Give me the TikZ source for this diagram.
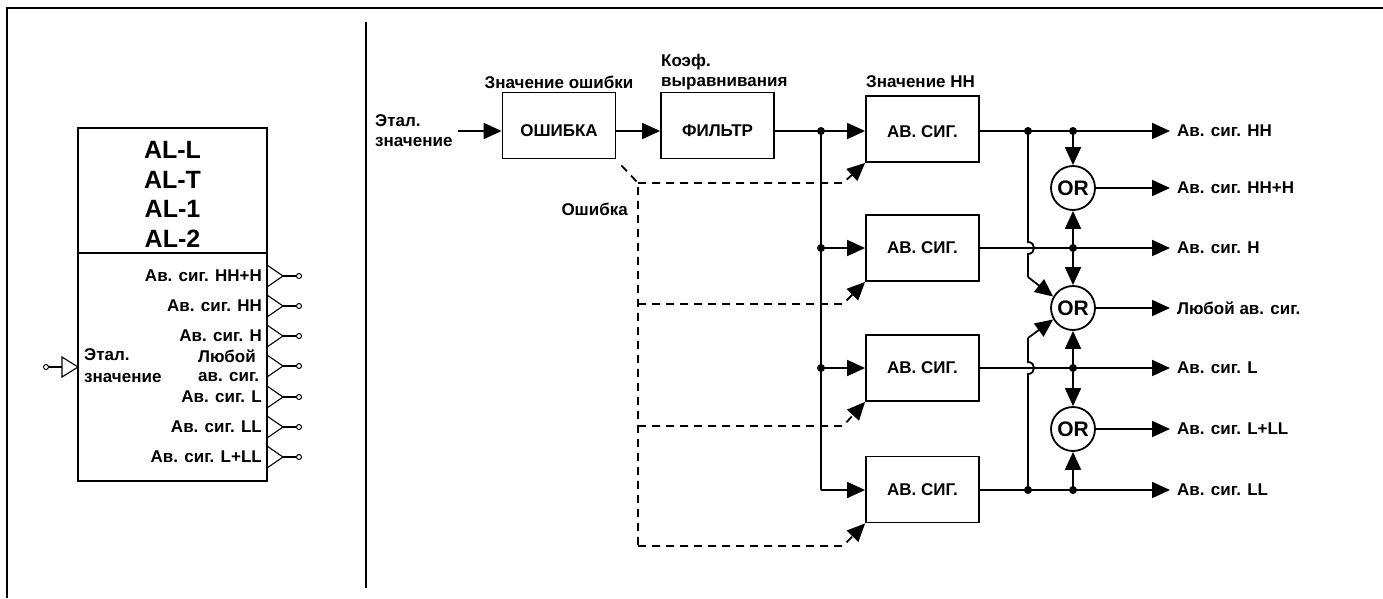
\documentclass[tikz,border=0pt]{standalone}
\usepackage{fontspec}
\setmainfont{Liberation Sans}
\usetikzlibrary{arrows.meta,calc}
\newcommand\lblf{\fontsize{17}{20}\selectfont\bfseries}
\newcommand\bigf{\fontsize{25}{30}\selectfont\bfseries}
\newcommand\orf{\fontsize{21}{24}\selectfont\bfseries}
\tikzset{
 ln/.style={line width=1.8pt},
 arr/.style={line width=1.8pt,-{Triangle[length=18pt,width=16pt]}},
 dsh/.style={line width=1.8pt,dash pattern=on 8pt off 6pt},
 darr/.style={line width=1.8pt,dash pattern=on 8pt off 6pt,-{Triangle[length=18pt,width=16pt]}},
 blk/.style={draw,line width=1.8pt,minimum width=113pt,minimum height=66pt,inner sep=0pt,font=\lblf},
 orc/.style={draw,circle,line width=1.8pt,minimum size=44pt,inner sep=0pt,font=\orf},
 dot/.style={circle,fill,inner sep=0pt,minimum size=8pt},
 txt/.style={font=\lblf,inner sep=0pt},
 pin/.style={draw,circle,line width=1pt,inner sep=0pt,minimum size=5pt},
}
\begin{document}
\begin{tikzpicture}[x=1pt,y=-1pt]
\useasboundingbox (0,0) rectangle (1383,598);
% frame
\draw[line width=2.5pt] (7,598) -- (7,8) -- (1383,8);
\draw[line width=1.8pt] (366,22) -- (366,588);
% ---------------- left block ----------------
\node[draw,line width=1.8pt,minimum width=189pt,minimum height=125pt,inner sep=0pt] (hdr) at (172.5,190.5) {};
\node[draw,line width=1.8pt,minimum width=189pt,minimum height=228pt,inner sep=0pt] (body) at (172.5,367) {};
\node[font=\bigf,inner sep=0pt] (al1) at (172.5,150) {AL-L};
\node[font=\bigf,inner sep=0pt] (al2) at (172.5,180) {AL-T};
\node[font=\bigf,inner sep=0pt] (al3) at (172.5,209) {AL-1};
\node[font=\bigf,inner sep=0pt] (al4) at (172.5,239) {AL-2};
% outputs
\foreach \y/\n in {276/o1,306/o2,336/o3,366/o4,397/o5,427/o6,457/o7}{
  \draw[line width=1.1pt] (267,\y-11) -- (283,\y) -- (267,\y+11);
  \node[pin] (\n) at (299,\y) {};
  \draw[line width=1.1pt] (283,\y) -- (\n);
}
\node[txt,anchor=east] (l1) at (262,276) {Ав. сиг. НН+Н};
\node[txt,anchor=east] (l2) at (262,306) {Ав. сиг. НН};
\node[txt,anchor=east] (l3) at (262,336) {Ав. сиг. Н};
\node[txt,anchor=west,align=left,font=\fontsize{17}{19}\selectfont\bfseries] (l4) at (198,366) {Любой\\ав. сиг.};
\node[txt,anchor=east] (l5) at (262,397) {Ав. сиг. L};
\node[txt,anchor=east] (l6) at (262,427) {Ав. сиг. LL};
\node[txt,anchor=east] (l7) at (262,457) {Ав. сиг. L+LL};
% input
\node[pin] (ipin) at (46,367) {};
\draw[line width=1.1pt] (ipin) -- (62,367);
\draw[line width=1.1pt] (62,357) -- (78,367) -- (62,377) -- cycle;
\node[txt,anchor=west,align=left,font=\fontsize{17}{22}\selectfont\bfseries] (lin) at (84,366) {Этал.\\значение};
% ---------------- right diagram ----------------
\node[txt,anchor=west,align=left,font=\fontsize{17}{20}\selectfont\bfseries] (ein) at (375,131) {Этал.\\значение};
\coordinate (ein0) at (458,131);
\node[blk,text height=23pt] (err) at (559,125.5) {ОШИБКА};
\node[blk,text height=23pt] (flt) at (717.5,125.5) {ФИЛЬТР};
\node[txt] (terr) at (559,82) {Значение ошибки};
\node[txt,anchor=west,align=left] (tflt) at (661,72) {Коэф.\\выравнивания};
\node[txt,anchor=west] (thh) at (866,82) {Значение НН};
\draw[arr] (ein0) -- (err.west |- ein0);
\draw[arr] (err.east |- ein0) -- (flt.west |- ein0);
% alarm boxes
\node[blk,text height=17pt] (b1) at (922.5,129) {АВ. СИГ.};
\node[blk] (b2) at (922.5,248) {АВ. СИГ.};
\node[blk] (b3) at (922.5,368) {АВ. СИГ.};
\node[blk] (b4) at (922.5,489.5) {АВ. СИГ.};
\node[dot] (j1) at (821,131) {};
\node[dot] (j2) at (821,248) {};
\node[dot] (j3) at (821,368) {};
\coordinate (j4) at (821,490);
\draw[ln] (flt.east |- j1) -- (j1.center);
\draw[ln] (j1.center) -- (j4);
\draw[arr] (j1.center) -- (b1.west |- j1);
\draw[arr] (j2.center) -- (b2.west |- j2);
\draw[arr] (j3.center) -- (b3.west |- j3);
\draw[arr] (j4) -- (b4.west |- j4);
% error dashed
\node[txt,anchor=east] (terr2) at (628,209) {Ошибка};
\coordinate (d1) at (638,183);
\coordinate (d2) at (638,304);
\coordinate (d3) at (638,426);
\coordinate (d4) at (638,546);
\draw[dsh] ($(err.south east)+(5,6)$) -- (d1) -- (d4);
\draw[darr] (d1) -- (843,183) -- (b1.south west);
\draw[darr] (d2) -- (843,304) -- (b2.south west);
\draw[darr] (d3) -- (843,426) -- (b3.south west);
\draw[darr] (d4) -- (843,546) -- (b4.south west);
% OR gates
\node[orc] (or1) at (1073,188) {OR};
\node[orc] (or2) at (1073,308) {OR};
\node[orc] (or3) at (1073,429) {OR};
% output rows
\node[dot] (a1) at (1028,131) {};
\node[dot] (k1) at (1073,131) {};
\node[dot] (k2) at (1073,248) {};
\node[dot] (k3) at (1073,368) {};
\node[dot] (a4) at (1028,490) {};
\node[dot] (k4) at (1073,490) {};
\coordinate (e1) at (1170,131);
\coordinate (e2) at (1170,188);
\coordinate (e3) at (1170,248);
\coordinate (e4) at (1170,308);
\coordinate (e5) at (1170,368);
\coordinate (e6) at (1170,429);
\coordinate (e7) at (1170,490);
\draw[arr] (b1.east |- e1) -- (e1);
\draw[arr] (b2.east |- e3) -- (e3);
\draw[arr] (b3.east |- e5) -- (e5);
\draw[arr] (b4.east |- e7) -- (e7);
\draw[arr] (or1.east) -- (e2);
\draw[arr] (or2.east) -- (e4);
\draw[arr] (or3.east) -- (e6);
% bus with hops
\draw[ln] (a1.center) -- (1028,242) .. controls (1036,242) and (1036,254) .. (1028,254) -- (1028,277);
\draw[arr] (1028,277) -- (or2.150);
\draw[ln] (a4.center) -- (1028,374) .. controls (1036,374) and (1036,362) .. (1028,362) -- (1028,338);
\draw[arr] (1028,338) -- (or2.210);
% vertical OR inputs
\draw[arr] (k1.center) -- (or1.north);
\draw[arr] (k2.center) -- (or1.south);
\draw[arr] (k2.center) -- (or2.north);
\draw[arr] (k3.center) -- (or2.south);
\draw[arr] (k3.center) -- (or3.north);
\draw[arr] (k4.center) -- (or3.south);
% labels
\node[txt,anchor=west] (t1) at (1177,131) {Ав. сиг. НН};
\node[txt,anchor=west] (t2) at (1177,188) {Ав. сиг. НН+Н};
\node[txt,anchor=west] (t3) at (1177,248) {Ав. сиг. Н};
\node[txt,anchor=west] (t4) at (1177,308) {Любой ав. сиг.};
\node[txt,anchor=west] (t5) at (1177,368) {Ав. сиг. L};
\node[txt,anchor=west] (t6) at (1177,429) {Ав. сиг. L+LL};
\node[txt,anchor=west] (t7) at (1177,490) {Ав. сиг. LL};
\end{tikzpicture}
\end{document}
